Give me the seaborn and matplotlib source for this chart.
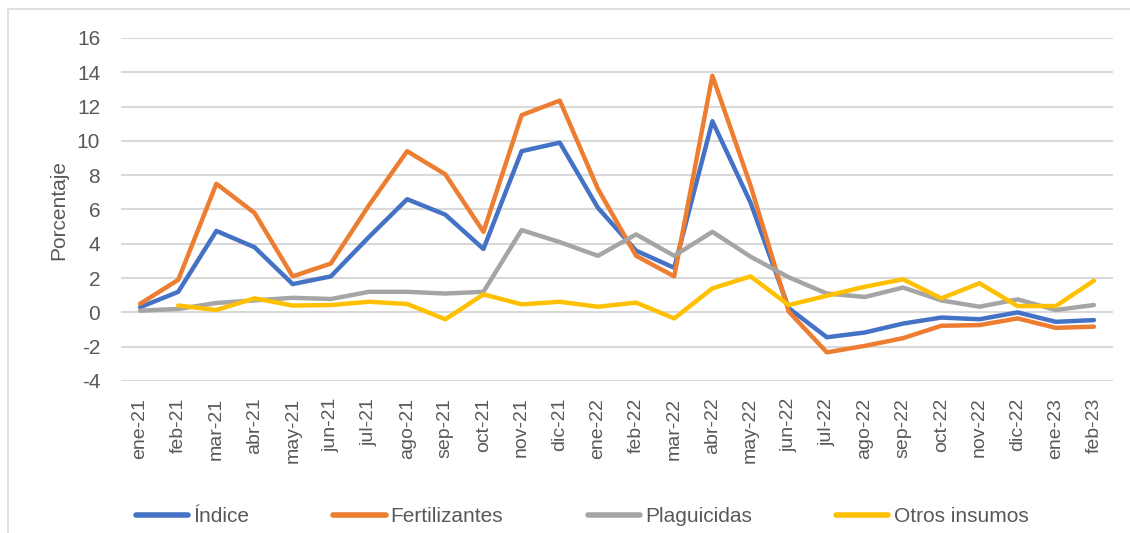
import numpy as np
import pandas as pd
import matplotlib
matplotlib.use('Agg')
import matplotlib.pyplot as plt
from matplotlib.patches import Rectangle
import seaborn as sns

# Meses
meses = ['ene-21', 'feb-21', 'mar-21', 'abr-21', 'may-21', 'jun-21', 'jul-21',
         'ago-21', 'sep-21', 'oct-21', 'nov-21', 'dic-21', 'ene-22', 'feb-22',
         'mar-22', 'abr-22', 'may-22', 'jun-22', 'jul-22', 'ago-22', 'sep-22',
         'oct-22', 'nov-22', 'dic-22', 'ene-23', 'feb-23']

# Variación porcentual por serie
indice = [0.3, 1.2, 4.75, 3.8, 1.65, 2.1, 4.4, 6.6, 5.7, 3.7, 9.4, 9.9, 6.1,
          3.6, 2.6, 11.15, 6.4, 0.25, -1.45, -1.17, -0.65, -0.3, -0.4, 0.0,
          -0.55, -0.45]
fertilizantes = [0.5, 1.9, 7.5, 5.8, 2.1, 2.85, 6.25, 9.4, 8.05, 4.7, 11.5,
                 12.35, 7.2, 3.3, 2.1, 13.8, 7.4, 0.05, -2.33, -1.95, -1.5,
                 -0.78, -0.74, -0.35, -0.9, -0.83]
plaguicidas = [0.1, 0.2, 0.55, 0.7, 0.85, 0.78, 1.2, 1.2, 1.1, 1.2, 4.8, 4.1,
               3.3, 4.55, 3.3, 4.7, 3.25, 2.05, 1.1, 0.9, 1.45, 0.7, 0.33,
               0.76, 0.14, 0.43]
otros = [np.nan, 0.4, 0.14, 0.82, 0.4, 0.43, 0.62, 0.49, -0.4, 1.05, 0.47,
         0.62, 0.33, 0.57, -0.35, 1.4, 2.1, 0.43, 0.97, 1.5, 1.93, 0.82, 1.7,
         0.37, 0.37, 1.85]

series = ['Índice', 'Fertilizantes', 'Plaguicidas', 'Otros insumos']
colores = ['#4472C4', '#ED7D31', '#A5A5A5', '#FFC000']

frames = []
for nombre, vals in zip(series, [indice, fertilizantes, plaguicidas, otros]):
    frames.append(pd.DataFrame({'pos': np.arange(len(meses)), 'mes': meses,
                                'valor': vals, 'serie': nombre}))
df = pd.concat(frames, ignore_index=True)

sns.set_style('white')
plt.rcParams['font.family'] = ['Liberation Sans', 'DejaVu Sans']
gris = '#595959'

fig = plt.figure(figsize=(11.3, 5.33), dpi=100)
ax = fig.add_axes([121 / 1130, 1 - 381 / 533, 992 / 1130, 343 / 533])

sns.lineplot(data=df, x='pos', y='valor', hue='serie', hue_order=series,
             palette=colores, linewidth=3.2, ax=ax, legend=False, sort=False)

ax.set_xlim(-0.5, len(meses) - 0.5)
ax.set_ylim(-4, 16)
ax.set_yticks(np.arange(-4, 17, 2))
ax.set_yticklabels([str(v) for v in range(-4, 17, 2)], fontsize=15, color=gris)
ax.set_xticks(np.arange(len(meses)))
ax.set_xticklabels(meses, rotation=90, fontsize=14, color=gris)
ax.tick_params(axis='both', length=0)
ax.tick_params(axis='y', pad=15)
ax.tick_params(axis='x', pad=12)
ax.grid(axis='y', color='#D9D9D9', linewidth=1.5)
ax.set_axisbelow(True)
for s in ax.spines.values():
    s.set_visible(False)
ax.set_xlabel('')
ax.set_ylabel('Porcentaje', fontsize=15, color=gris, labelpad=6)

# Leyenda
handles = [plt.Line2D([], [], color=c, linewidth=4, solid_capstyle='round')
           for c in colores]
fig.legend(handles, series, loc='center left',
           bbox_to_anchor=(117 / 1130, 1 - 517 / 533),
           ncol=4, frameon=False, handlelength=2.5, handletextpad=0.25,
           columnspacing=4.05, fontsize=15, labelcolor=gris)

# Borde del gráfico
fig.patches.append(Rectangle((8 / 1130, -0.01), 1.0, 1 - 9 / 533 + 0.01,
                             transform=fig.transFigure, fill=False,
                             edgecolor='#D9D9D9', linewidth=1.2))

fig.savefig('out.png', dpi=100)
